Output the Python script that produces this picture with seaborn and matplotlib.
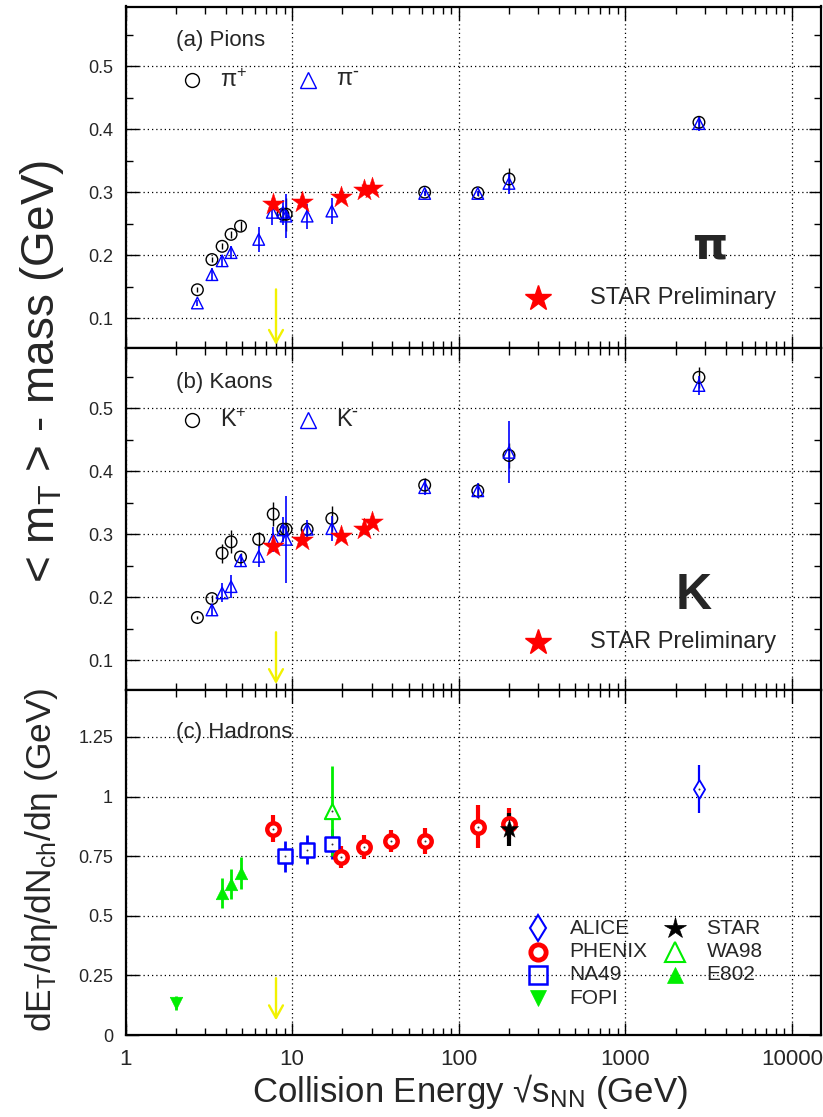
import numpy as np
import pandas as pd
import matplotlib
matplotlib.use("Agg")
import matplotlib.pyplot as plt
from matplotlib.ticker import LogLocator, FixedLocator, FuncFormatter, MultipleLocator, NullFormatter
import seaborn as sns

# ---------------- data ----------------
# (a) pions: <mT> - m (GeV)
pip_E = [2.7, 3.3, 3.8, 4.3, 4.9, 8.8, 9.2, 62.4, 130, 200, 2760]
pip_v = [0.145, 0.193, 0.214, 0.233, 0.246, 0.265, 0.265, 0.300, 0.299, 0.321, 0.411]
pip_e = [0.004, 0.004, 0.005, 0.006, 0.008, 0.008, 0.026, 0.005, 0.005, 0.017, 0.010]

pim_E = [2.7, 3.3, 3.8, 4.3, 6.3, 7.6, 8.8, 9.2, 12.3, 17.3, 62.4, 130, 200, 2760]
pim_v = [0.124, 0.169, 0.191, 0.204, 0.225, 0.268, 0.268, 0.262, 0.262, 0.270, 0.298, 0.298, 0.314, 0.409]
pim_e = [0.005, 0.010, 0.010, 0.010, 0.020, 0.020, 0.020, 0.035, 0.020, 0.020, 0.004, 0.004, 0.017, 0.012]

# STAR beam-energy-scan (preliminary)
star_bes_E = [7.7, 11.5, 19.6, 27, 30]
pi_star_v = [0.281, 0.284, 0.292, 0.304, 0.307]
k_star_v = [0.281, 0.291, 0.298, 0.309, 0.320]

# (b) kaons
kp_E = [2.7, 3.3, 3.8, 4.3, 4.9, 6.3, 7.7, 8.8, 9.2, 12.3, 17.3, 62.4, 130, 200, 2760]
kp_v = [0.168, 0.198, 0.270, 0.288, 0.264, 0.292, 0.332, 0.308, 0.308, 0.308, 0.325, 0.378, 0.369, 0.425, 0.549]
kp_e = [0.003, 0.005, 0.015, 0.018, 0.006, 0.012, 0.019, 0.006, 0.006, 0.010, 0.020, 0.012, 0.012, 0.020, 0.017]

km_E = [3.3, 3.8, 4.3, 4.9, 6.3, 7.7, 8.8, 9.2, 12.3, 17.3, 62.4, 130, 200, 2760]
km_v = [0.180, 0.207, 0.217, 0.258, 0.265, 0.292, 0.307, 0.292, 0.308, 0.309, 0.374, 0.369, 0.430, 0.536]
km_e = [0.010, 0.015, 0.018, 0.010, 0.017, 0.020, 0.020, 0.069, 0.015, 0.020, 0.012, 0.012, 0.049, 0.015]

# (c) hadrons: dET/deta / dNch/deta (GeV)
fopi_E, fopi_v, fopi_e = [2.0], [0.134], [0.030]
e802_E, e802_v, e802_e = [3.8, 4.3, 4.9], [0.595, 0.633, 0.680], [0.063, 0.063, 0.067]
phenix_E = [7.7, 19.6, 27, 39, 62.4, 130, 200]
phenix_v = [0.866, 0.746, 0.788, 0.814, 0.814, 0.873, 0.887]
phenix_e = [0.055, 0.045, 0.050, 0.045, 0.055, 0.090, 0.063]
na49_E, na49_v, na49_e = [9.1, 12.3, 17.3], [0.750, 0.778, 0.802], [0.065, 0.060, 0.064]
wa98_E, wa98_v, wa98_e = [17.3], [0.939], [0.190]
star_E, star_v, star_e = [200], [0.863], [0.070]
alice_E, alice_v, alice_e = [2760], [1.032], [0.100]

# energy marked by the arrows
arrow_E = 8.0

# ---------------- style ----------------
sns.set_style("ticks")
FONTS = ["Liberation Sans", "DejaVu Sans"]
plt.rcParams["font.family"] = FONTS
plt.rcParams["mathtext.default"] = "regular"

RED, BLUE, GREEN, YEL = "#ff0000", "#0000ff", "#00ee00", "#f2f200"

W, H = 823, 1117
fig = plt.figure(figsize=(W / 100, H / 100), dpi=100)

def px_axes(top, bottom, left=125.5, right=820.5):
    return fig.add_axes([left / W, 1 - bottom / H, (right - left) / W, (bottom - top) / H])

ax_a = px_axes(6.5, 348.3)
ax_b = px_axes(348.3, 690.0)
ax_c = px_axes(690.0, 1035.0)

XMIN, XMAX = 1, 14800

def style_axes(ax, ylim, major, minor, fmt, xlabels):
    ax.set_xscale("log")
    ax.set_xlim(XMIN, XMAX)
    ax.set_ylim(*ylim)
    ax.xaxis.set_major_locator(FixedLocator([1, 10, 100, 1000, 10000]))
    ax.xaxis.set_minor_locator(LogLocator(base=10, subs=np.arange(2, 10), numticks=20))
    ax.xaxis.set_minor_formatter(NullFormatter())
    if xlabels:
        ax.xaxis.set_major_formatter(FuncFormatter(lambda v, p: f"{int(round(v))}"))
    else:
        ax.xaxis.set_major_formatter(NullFormatter())
    ax.yaxis.set_major_locator(MultipleLocator(major))
    if minor:
        ax.yaxis.set_minor_locator(MultipleLocator(minor))
    else:
        ax.yaxis.set_minor_locator(FixedLocator([]))
    ax.yaxis.set_major_formatter(FuncFormatter(fmt))
    ax.tick_params(which="both", direction="in", top=True, right=True, width=1.0, color="k")
    ax.tick_params(which="major", length=9)
    ax.tick_params(which="minor", length=5)
    ax.tick_params(axis="y", which="major", labelsize=13, pad=9)
    ax.tick_params(axis="x", which="major", labelsize=16, pad=10)
    for s in ax.spines.values():
        s.set_linewidth(1.6)
        s.set_color("k")
    ax.grid(True, which="major", color="k", linestyle=(0, (1, 2.4)), linewidth=0.9)
    ax.set_xlabel("")
    ax.set_ylabel("")

def scat(ax, E, v, marker, s, face, edge, lw, z=3):
    df = pd.DataFrame({"E": E, "v": v})
    sns.scatterplot(data=df, x="E", y="v", marker=marker, s=s, facecolor=face,
                    edgecolor=edge, linewidth=lw, ax=ax, zorder=z, legend=False)

def ebar(ax, E, v, e, color, lw, z=2):
    ax.errorbar(E, v, yerr=e, fmt="none", ecolor=color, elinewidth=lw, capsize=0, zorder=z)

def centre_dots(ax, E, v, z=6):
    sns.scatterplot(x=E, y=v, marker="o", s=2, color="#333333", linewidth=0, ax=ax,
                    zorder=z, legend=False)

def arrow(ax, y0, y1):
    ax.annotate("", xy=(arrow_E, y1), xytext=(arrow_E, y0),
                arrowprops=dict(arrowstyle="->,head_length=0.9,head_width=0.5",
                                color=YEL, lw=1.7), zorder=7)

fmt1 = lambda v, p: f"{v:.1f}"
fmt_c = lambda v, p: f"{v:g}"

# ---------------- (a) pions ----------------
ax = ax_a
ebar(ax, pip_E, pip_v, pip_e, "k", 1.0)
ebar(ax, pim_E, pim_v, pim_e, BLUE, 1.2)
scat(ax, pip_E, pip_v, "o", 70, "none", "k", 1.0, z=4)
scat(ax, pim_E, pim_v, "^", 70, "none", BLUE, 1.0, z=4)
scat(ax, star_bes_E, pi_star_v, "*", 270, RED, RED, 0.3, z=5)
arrow(ax, 0.150, 0.053)
style_axes(ax, (0.052, 0.595), 0.1, 0.05, fmt1, False)

tr = ax.transAxes
ax.text(0.073, 0.90, "(a) Pions", transform=tr, fontsize=16, va="center", ha="left")
ax.plot([0.0956], [0.784], marker="o", ms=10, mfc="none", mec="k", mew=1.0, transform=tr, clip_on=False)
ax.text(0.136, 0.784, r"$\pi^{+}$", transform=tr, fontsize=17, va="center", ha="left")
ax.plot([0.263], [0.784], marker="^", ms=11, mfc="none", mec=BLUE, mew=1.0, transform=tr, clip_on=False)
ax.text(0.303, 0.784, r"$\pi^{\text{-}}$", transform=tr, fontsize=17, va="center", ha="left")
ax.text(0.84, 0.30, "π", transform=tr, fontsize=32, fontweight="bold", va="center", ha="center",
        family=["DejaVu Sans"])
ax.plot([0.594], [0.146], marker="*", ms=19, mfc=RED, mec=RED, transform=tr)
ax.text(0.669, 0.146, "STAR Preliminary", transform=tr, fontsize=17, va="center", ha="left")

# ---------------- (b) kaons ----------------
ax = ax_b
ebar(ax, kp_E, kp_v, kp_e, "k", 1.0)
ebar(ax, km_E, km_v, km_e, BLUE, 1.2)
scat(ax, kp_E, kp_v, "o", 70, "none", "k", 1.0, z=4)
scat(ax, km_E, km_v, "^", 70, "none", BLUE, 1.0, z=4)
scat(ax, star_bes_E, k_star_v, "*", 270, RED, RED, 0.3, z=5)
arrow(ax, 0.149, 0.058)
style_axes(ax, (0.053, 0.595), 0.1, 0.05, fmt1, False)

tr = ax.transAxes
ax.text(0.073, 0.90, "(b) Kaons", transform=tr, fontsize=16, va="center", ha="left")
ax.plot([0.0956], [0.789], marker="o", ms=10, mfc="none", mec="k", mew=1.0, transform=tr)
ax.text(0.136, 0.789, r"K$^{+}$", transform=tr, fontsize=17, va="center", ha="left")
ax.plot([0.263], [0.789], marker="^", ms=11, mfc="none", mec=BLUE, mew=1.0, transform=tr)
ax.text(0.303, 0.789, r"K$^{\text{-}}$", transform=tr, fontsize=17, va="center", ha="left")
ax.text(0.818, 0.275, "K", transform=tr, fontsize=36, fontweight="bold", va="center", ha="center")
ax.plot([0.594], [0.14], marker="*", ms=19, mfc=RED, mec=RED, transform=tr)
ax.text(0.669, 0.14, "STAR Preliminary", transform=tr, fontsize=17, va="center", ha="left")

# ---------------- (c) hadrons ----------------
ax = ax_c
ebar(ax, fopi_E, fopi_v, fopi_e, GREEN, 2.0)
ebar(ax, e802_E, e802_v, e802_e, GREEN, 2.0)
ebar(ax, na49_E, na49_v, na49_e, BLUE, 2.0)
ebar(ax, wa98_E, wa98_v, wa98_e, GREEN, 2.0, z=3)
ebar(ax, phenix_E, phenix_v, phenix_e, RED, 3.0, z=4)
ebar(ax, star_E, star_v, star_e, "k", 3.0, z=5)
ebar(ax, alice_E, alice_v, alice_e, BLUE, 1.6)
scat(ax, fopi_E, fopi_v, "v", 80, GREEN, GREEN, 0.5, z=4)
scat(ax, e802_E, e802_v, "^", 80, GREEN, GREEN, 0.5, z=4)
scat(ax, na49_E, na49_v, "s", 90, "white", BLUE, 1.8, z=4)
scat(ax, wa98_E, wa98_v, "^", 120, "white", GREEN, 1.5, z=4)
scat(ax, phenix_E, phenix_v, "o", 80, "white", RED, 3.2, z=5)
scat(ax, star_E, star_v, "*", 190, "k", "k", 0.3, z=6)
scat(ax, alice_E, alice_v, "d", 90, "white", BLUE, 1.3, z=4)
centre_dots(ax, na49_E + wa98_E + phenix_E[:-1] + alice_E, na49_v + wa98_v + phenix_v[:-1] + alice_v)
arrow(ax, 0.25, 0.05)
style_axes(ax, (0.0, 1.447), 0.25, None, fmt_c, True)

tr = ax.transAxes
ax.text(0.073, 0.878, "(c) Hadrons", transform=tr, fontsize=16, va="center", ha="left")
rows = [0.310, 0.242, 0.174, 0.107]
legend_left = [
    ("d", dict(ms=13, mfc="none", mec=BLUE, mew=1.5), "ALICE"),
    ("o", dict(ms=11, mfc="none", mec=RED, mew=3.5), "PHENIX"),
    ("s", dict(ms=13, mfc="none", mec=BLUE, mew=1.8), "NA49"),
    ("v", dict(ms=12, mfc=GREEN, mec=GREEN, mew=0.5), "FOPI"),
]
legend_right = [
    ("*", dict(ms=16, mfc="k", mec="k", mew=0.5), "STAR"),
    ("^", dict(ms=14, mfc="none", mec=GREEN, mew=1.5), "WA98"),
    ("^", dict(ms=12, mfc=GREEN, mec=GREEN, mew=0.5), "E802"),
]
for (m, kw, lab), y in zip(legend_left, rows):
    ax.plot([0.594], [y], marker=m, transform=tr, ls="none", **kw)
    ax.text(0.639, y, lab, transform=tr, fontsize=15, va="center", ha="left")
for (m, kw, lab), y in zip(legend_right, rows):
    ax.plot([0.791], [y], marker=m, transform=tr, ls="none", **kw)
    ax.text(0.836, y, lab, transform=tr, fontsize=15, va="center", ha="left")

# ---------------- axis titles ----------------
fig.text(470 / W, 1 - 1102 / H, "Collision Energy √s$_{NN}$ (GeV)", fontsize=25,
         ha="center", va="baseline")
fig.text(42 / W, 1 - 371 / H, "< m$_{T}$ > - mass (GeV)", fontsize=33, rotation=90,
         ha="center", va="center")
fig.text(42 / W, 1 - 860 / H, "dE$_{T}$/dη/dN$_{ch}$/dη (GeV)", fontsize=25.5, rotation=90,
         ha="center", va="center")

fig.savefig("out.png", dpi=100)
